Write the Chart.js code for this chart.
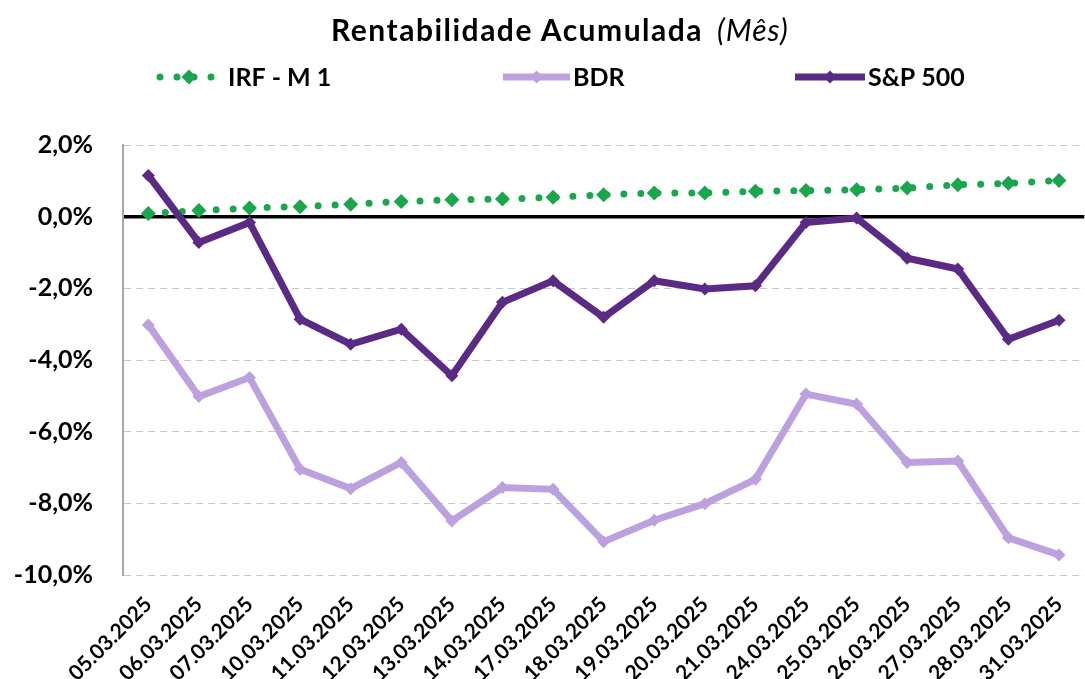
<!DOCTYPE html>
<html>
<head>
<meta charset="utf-8">
<script src="https://cdn.jsdelivr.net/npm/chart.js@4/dist/chart.umd.min.js"></script>
<style>
  html, body { margin: 0; padding: 0; background: #ffffff; overflow: hidden; width: 1085px; height: 679px; }
  #wrap { position: relative; width: 1094px; height: 679px; }
  #title { position: absolute; left: 331px; top: 10px; white-space: nowrap; font-family: Lato, "Open Sans", sans-serif; color: #000; line-height: 38px; }
  #title b { font-size: 30px; font-weight: 700; letter-spacing: 1.5px; }
  #title i { font-size: 30px; font-weight: 400; margin-left: 14px; letter-spacing: 1px; }
  canvas { position: absolute; left: 0; top: 0; }
</style>
</head>
<body>
<div id="wrap">
  <canvas id="c" width="1094" height="679"></canvas>
  <div id="title"><b>Rentabilidade Acumulada</b><i>(Mês)</i></div>
</div>
<script>
const categories = ["05.03.2025","06.03.2025","07.03.2025","10.03.2025","11.03.2025","12.03.2025","13.03.2025","14.03.2025","17.03.2025","18.03.2025","19.03.2025","20.03.2025","21.03.2025","24.03.2025","25.03.2025","26.03.2025","27.03.2025","28.03.2025","31.03.2025"];
const irfM1 = [0.09,0.17,0.24,0.28,0.35,0.42,0.47,0.49,0.54,0.61,0.66,0.66,0.71,0.73,0.75,0.80,0.89,0.93,1.01];
const bdr = [-3.02,-5.02,-4.49,-7.05,-7.59,-6.86,-8.49,-7.56,-7.61,-9.07,-8.47,-8.01,-7.33,-4.95,-5.23,-6.86,-6.82,-8.96,-9.44];
const sp500 = [1.15,-0.72,-0.16,-2.86,-3.56,-3.14,-4.44,-2.39,-1.79,-2.81,-1.79,-2.02,-1.93,-0.16,-0.04,-1.16,-1.46,-3.42,-2.89];
const seriesNames = ["IRF - M 1","BDR","S&P 500"];
const yTicks = [2,0,-2,-4,-6,-8,-10];

const GREEN = '#19a64c', LILAC = '#bda1df', PURPLE = '#5b2a85';
const FONT = 'Lato, "Open Sans", sans-serif';

const legendPlugin = {
  id: 'customLegend',
  afterDraw(chart) {
    const ctx = chart.ctx;
    const slots = [{x1:160,x2:218,tx:228},{x1:503,x2:570,tx:573},{x1:795,x2:865,tx:868}];
    const y = 77;
    chart.data.datasets.forEach((ds, i) => {
      const s = slots[i];
      ctx.save();
      ctx.strokeStyle = ds.borderColor;
      ctx.lineWidth = ds.borderWidth;
      ctx.lineCap = ds.borderCapStyle || 'butt';
      ctx.setLineDash(ds.borderDash || []);
      ctx.beginPath(); ctx.moveTo(s.x1, y); ctx.lineTo(s.x2, y); ctx.stroke();
      ctx.setLineDash([]);
      const cx = (s.x1 + s.x2) / 2, r = ds.pointRadius;
      ctx.fillStyle = ds.borderColor;
      ctx.beginPath(); ctx.moveTo(cx, y - r); ctx.lineTo(cx + r, y); ctx.lineTo(cx, y + r); ctx.lineTo(cx - r, y); ctx.closePath(); ctx.fill();
      ctx.fillStyle = '#000';
      ctx.font = 'bold 25px ' + FONT;
      ctx.textBaseline = 'middle';
      ctx.textAlign = 'left';
      ctx.fillText(ds.label, s.tx, y + 1);
      ctx.restore();
    });
  }
};

const isZero = c => c.tick && c.tick.value === 0;

new Chart(document.getElementById('c'), {
  type: 'line',
  data: {
    labels: categories,
    datasets: [
      { label: seriesNames[0], data: irfM1, borderColor: GREEN, backgroundColor: GREEN, borderWidth: 7, borderDash: [0, 17], borderCapStyle: 'round',
        pointStyle: 'rectRot', pointRadius: 7.5, pointBorderWidth: 0, pointBackgroundColor: GREEN, order: 1 },
      { label: seriesNames[1], data: bdr, borderColor: LILAC, backgroundColor: LILAC, borderWidth: 7,
        pointStyle: 'rectRot', pointRadius: 6.5, pointBorderWidth: 0, pointBackgroundColor: LILAC, order: 2 },
      { label: seriesNames[2], data: sp500, borderColor: PURPLE, backgroundColor: PURPLE, borderWidth: 7,
        pointStyle: 'rectRot', pointRadius: 6.5, pointBorderWidth: 0, pointBackgroundColor: PURPLE, order: 0 }
    ]
  },
  options: {
    responsive: false,
    animation: false,
    devicePixelRatio: 1,
    layout: { padding: { top: 145, right: 2, left: 0, bottom: 0 } },
    plugins: { legend: { display: false }, tooltip: { enabled: false }, title: { display: false } },
    elements: { line: { tension: 0 } },
    scales: {
      x: {
        type: 'category',
        offset: true,
        grid: { display: false, drawTicks: false },
        border: { display: false },
        ticks: { color: '#000', font: { family: FONT, size: 21, weight: 'bold' }, maxRotation: 45, minRotation: 45, padding: 17, autoSkip: false },
        afterFit: s => { s.height = 104; }
      },
      y: {
        min: -10, max: 2,
        afterBuildTicks: s => { s.ticks = yTicks.map(v => ({ value: v })); },
        grid: { drawTicks: false, color: c => isZero(c) ? '#000000' : '#c8c8c8', lineWidth: c => isZero(c) ? 3.5 : 1 },
        border: { display: true, color: '#a6a6a6', width: 2, dash: c => isZero(c) ? [] : [7, 5] },
        ticks: { color: '#000', font: { family: FONT, size: 25, weight: 'bold' }, padding: 30,
          callback: v => v.toFixed(1).replace('.', ',') + '%' },
        afterFit: s => { s.width = 123; }
      }
    }
  },
  plugins: [legendPlugin]
});
</script>
</body>
</html>
